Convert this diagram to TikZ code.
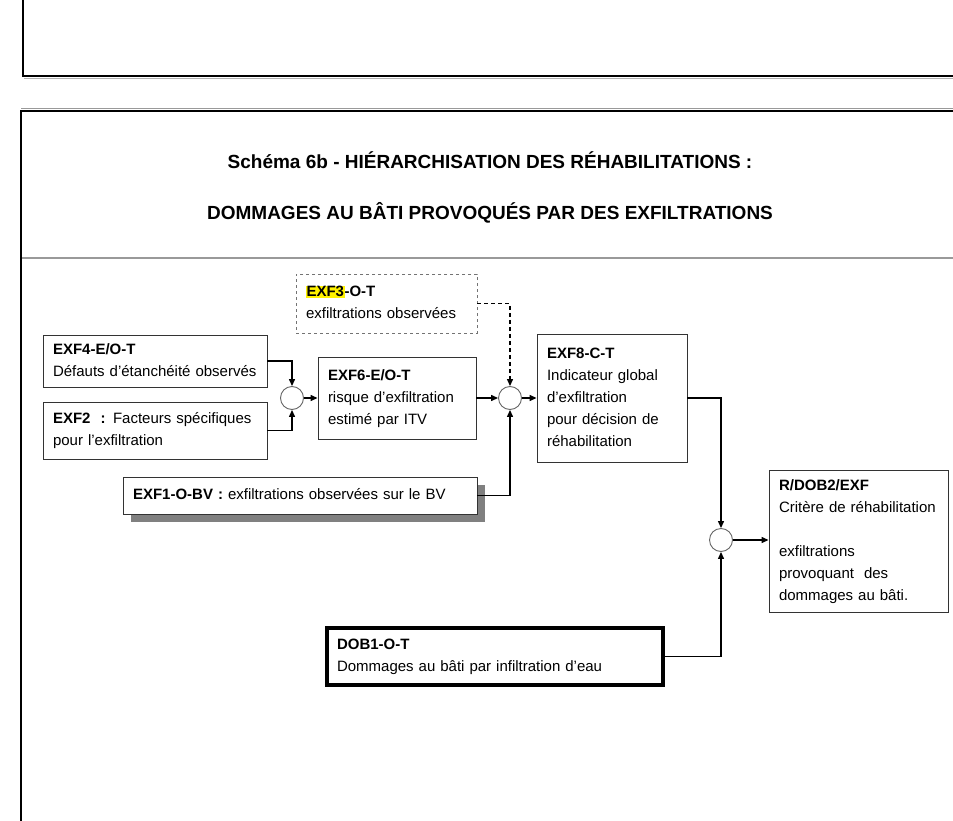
\documentclass[tikz,border=0pt]{standalone}
\usepackage{fontspec}
\setmainfont{Liberation Sans}
\usetikzlibrary{arrows.meta,shadows}
\begin{document}
\begin{tikzpicture}[x=1pt,y=-1pt,
  box/.style={draw=black!80, line width=0.9pt, fill=white, align=left,
    inner xsep=10pt, inner ysep=0pt, font=\fontsize{15}{22}\selectfont,
    execute at begin node=\strut, execute at end node=\strut},
  sumnode/.style={circle, draw=black!60, line width=0.9pt, minimum size=23pt,
    inner sep=0pt, fill=white},
  link/.style={line width=1.3pt, -{Triangle[length=7pt,width=6pt]}},
  frameline/.style={line width=2pt, black},
  titletext/.style={font=\fontsize{19}{22}\selectfont\bfseries, anchor=base, inner sep=0pt}]
\useasboundingbox (0,0) rectangle (953,821);
\fill[white] (0,0) rectangle (953,821);
% frames
\draw[black!30, line width=1pt] (24,78.5) -- (953,78.5);
\draw[frameline] (23,0) -- (23,76) -- (953,76);
\draw[black!40, line width=1pt] (21,108.5) -- (953,108.5);
\draw[frameline] (21,821) -- (21,111) -- (953,111);
\draw[black!40, line width=2pt] (22,258) -- (953,258);
% title
\node[titletext] (t1) at (490,169) {Schéma 6b - HIÉRARCHISATION DES RÉHABILITATIONS :};
\node[titletext] (t2) at (490,220) {DOMMAGES AU BÂTI PROVOQUÉS PAR DES EXFILTRATIONS};
% boxes
\node[box, dashed, draw=black!55, line width=0.8pt, text width=161pt, minimum height=59pt] (exf3) at (386.5,303.5)
  {{\setlength{\fboxsep}{0.5pt}\colorbox{yellow}{\textbf{EXF3}}}\textbf{-O-T}\\exfiltrations observées};
\node[box, text width=204pt, minimum height=52pt] (exf4) at (155,361)
  {\textbf{EXF4-E/O-T}\\Défauts d’étanchéité observés};
\node[box, text width=204pt, minimum height=57pt] (exf2) at (155,430.5)
  {\textbf{EXF2\ \ :} Facteurs spécifiques\\pour l’exfiltration};
\node[box, text width=138pt, minimum height=82pt] (exf6) at (397,398)
  {\textbf{EXF6-E/O-T}\\risque d’exfiltration\\estimé par ITV};
\node[box, text width=130pt, minimum height=128pt] (exf8) at (612,398)
  {\textbf{EXF8-C-T}\\Indicateur global\\d’exfiltration\\pour décision de\\réhabilitation};
\node[box, text width=334pt, minimum height=37pt,
  drop shadow={shadow xshift=8pt, shadow yshift=-8pt, fill=black!50, opacity=1}] (exf1) at (300,495.5)
  {\textbf{EXF1-O-BV :} exfiltrations observées sur le BV};
\node[box, text width=159pt, minimum height=142pt] (rdob) at (858.5,541)
  {\textbf{R/DOB2/EXF}\\Critère de réhabilitation\\\mbox{}\\exfiltrations\\provoquant\ \ des\\dommages au bâti.};
\node[box, draw=black, line width=3.5pt, text width=316pt, minimum height=57pt] (dob1) at (495,656.5)
  {\textbf{DOB1-O-T}\\Dommages au bâti par infiltration d’eau};
% summing circles
\node[sumnode] (c1) at (292,398) {};
\node[sumnode] (c2) at (510,398) {};
\node[sumnode] (c3) at (721,540) {};
% connectors
\draw[link] (exf4.east) -| (c1.north);
\draw[link] (exf2.east) -| (c1.south);
\draw[link] (c1.east) -- (exf6.west);
\draw[link] (exf6.east) -- (c2.west);
\draw[link, dashed, dash pattern=on 4pt off 3pt] (exf3.east) -| (c2.north);
\draw[link] (exf1.east) -| (c2.south);
\draw[link] (c2.east) -- (exf8.west);
\draw[link] (exf8.east) -| (c3.north);
\draw[link] (dob1.east) -| (c3.south);
\draw[link] (c3.east) -- (c3.east -| rdob.west);
\end{tikzpicture}
\end{document}
